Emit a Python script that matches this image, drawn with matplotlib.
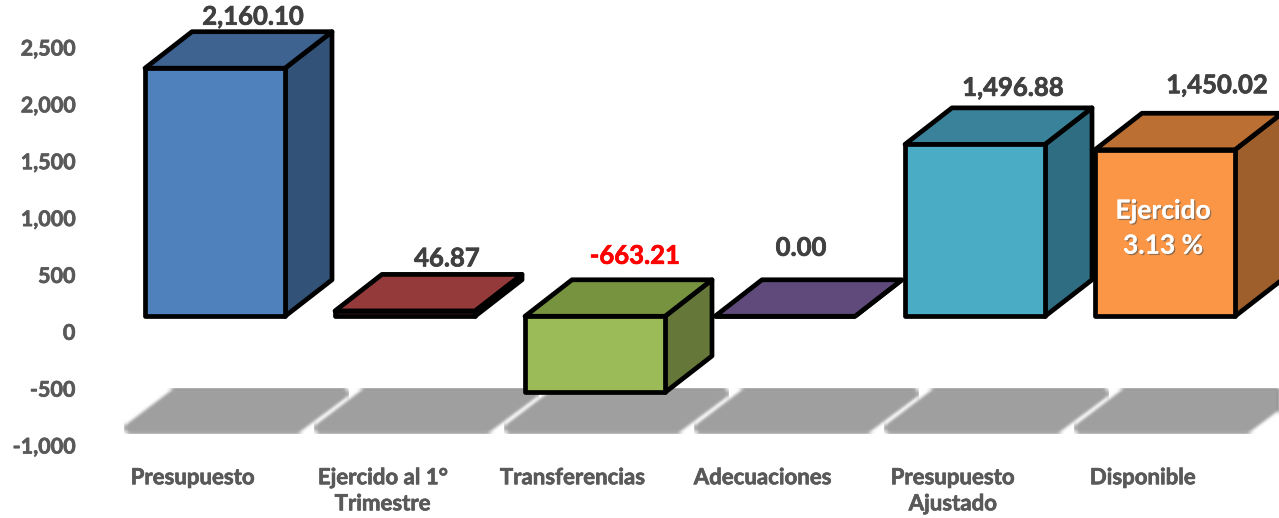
import matplotlib
matplotlib.use('Agg')
import matplotlib.pyplot as plt
import matplotlib.patheffects as pe
from matplotlib.patches import Polygon
import numpy as np

categories=['Presupuesto','Ejercido al 1°\nTrimestre','Transferencias','Adecuaciones','Presupuesto\nAjustado','Disponible']
values=[2160.10,46.87,-663.21,0.00,1496.88,1450.02]
value_labels=['2,160.10','46.87','-663.21','0.00','1,496.88','1,450.02']
label_colors=['#404040','#404040','#ff0000','#404040','#404040','#404040']
front_colors=['#4f81bd','#953a3a','#9bbb59','#604a7b','#4bacc6','#fb9646']
top_colors=['#3f6391','#953a3a','#779340','#604a7b','#3a8299','#bb6f33']
side_colors=['#335278','#953a3a','#66773a','#604a7b','#2f6e82','#9e5f2c']
yticks=[-1000,-500,0,500,1000,1500,2000,2500]
# hand placed labels in the original, pixels from the back top edge
label_dx=[60,64,62,38,60,74]
label_dy=[15,16,24,32,20,28]

W,H=1279,518
left_px,top_px,bottom_px=85,47,445
first_px,step_px=193,190
px_per_unit=(bottom_px-top_px)/3500
yunit=1/px_per_unit
xunit=1/step_px

# box sizes, in data units
bar_w=140*xunit
shift=22*xunit
depth_x=47*xunit
depth_y=36.5*yunit
base=15*yunit
height_scale=1.01

def blur(image,dpi):
    out=image.copy()
    for c in range(4):
        a=image[:,:,c]
        for k in (5,3):
            kern=np.ones(k)/k
            a=np.apply_along_axis(lambda r:np.convolve(r,kern,mode='same'),0,a)
            a=np.apply_along_axis(lambda r:np.convolve(r,kern,mode='same'),1,a)
        out[:,:,c]=a
    return out,0,0

fig=plt.figure(figsize=(W/100,H/100),dpi=100)
ax=fig.add_axes([left_px/W,1-bottom_px/H,1-left_px/W,(bottom_px-top_px)/H])
ax.set_xlim((left_px-first_px)/step_px,(W-first_px)/step_px)
ax.set_ylim(-1000,2500)
for s in ax.spines.values():
    s.set_visible(False)

font='Lato'
heavy=[pe.withStroke(linewidth=0.5,foreground='#595959')]
ax.set_yticks(yticks)
ax.set_yticklabels([f'{v:,}' for v in yticks],fontsize=15.5,fontweight='bold',color='#595959',family=font,path_effects=heavy)
ax.set_xticks(range(len(categories)))
ax.set_xticklabels(categories,fontsize=16,fontweight='bold',color='#595959',family=font,linespacing=1.3,path_effects=heavy)
ax.tick_params(axis='y',length=0,pad=7)
ax.tick_params(axis='x',length=0,pad=16)

# floor shadows
for i in range(len(categories)):
    floor=Polygon([(i-63*xunit,-849),(i+104*xunit,-849),(i+150*xunit,-549),(i-18*xunit,-549)],closed=True,
                  fc='#9f9f9f',ec='#9f9f9f',lw=8,joinstyle='round',clip_on=False,zorder=1)
    floor.set_agg_filter(blur)
    ax.add_patch(floor)

# boxes
for i,v in enumerate(values):
    x0=i+shift-bar_w/2
    x1=x0+bar_w
    top=base+max(v,0)*height_scale
    bot=base+min(v,0)*height_scale
    style=dict(closed=True,ec='black',lw=3.4,joinstyle='round',clip_on=False,zorder=3+i)
    ax.add_patch(Polygon([(x1,bot),(x1+depth_x,bot+depth_y),(x1+depth_x,top+depth_y),(x1,top)],fc=side_colors[i],**style))
    ax.add_patch(Polygon([(x0,top),(x1,top),(x1+depth_x,top+depth_y),(x0+depth_x,top+depth_y)],fc=top_colors[i],**style))
    ax.add_patch(Polygon([(x0,bot),(x1,bot),(x1,top),(x0,top)],fc=front_colors[i],**style))
    ax.annotate(value_labels[i],(i,top+depth_y),xytext=(label_dx[i]*0.72,label_dy[i]*0.72),textcoords='offset points',
                ha='center',va='center',fontsize=18.5,fontweight='bold',color=label_colors[i],family=font,
                annotation_clip=False,zorder=20,path_effects=[pe.withStroke(linewidth=0.5,foreground=label_colors[i])])

ax.text(5+shift-2*xunit,base+values[5]/2+50,'Ejercido\n3.13 %',ha='center',va='center',fontsize=19,fontweight='bold',
        color='white',family=font,linespacing=1.55,zorder=20,
        path_effects=[pe.withSimplePatchShadow(offset=(1,-1),shadow_rgbFace='#555555',alpha=0.6),pe.Normal()])

fig.savefig('out.png',dpi=100)
